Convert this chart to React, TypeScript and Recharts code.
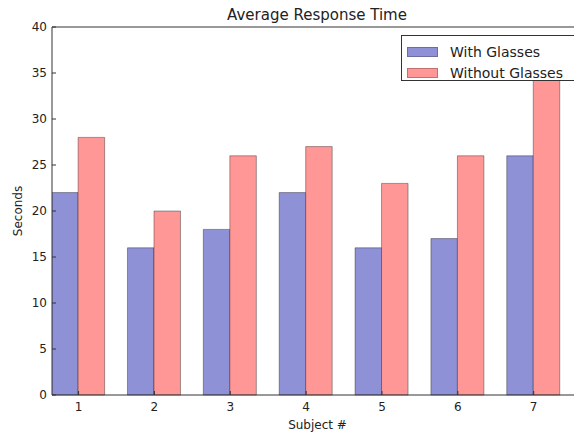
import React from "react";
import { Bar, BarChart, Legend, XAxis, YAxis } from "recharts";

const subjects = [1, 2, 3, 4, 5, 6, 7];
const withGlasses = [22, 16, 18, 22, 16, 17, 26];
const withoutGlasses = [28, 20, 26, 27, 23, 26, 35];
const yTicks = [0, 5, 10, 15, 20, 25, 30, 35, 40];

// matplotlib-style layout: bar i starts at i, width 0.35, tick at i + 0.35
const BAR_W = 0.35;
const data = subjects.map((s, i) => ({
  x: i + BAR_W,
  subject: s,
  withGlasses: withGlasses[i],
  withoutGlasses: withoutGlasses[i],
}));
const xTicks = data.map((d) => d.x);

const FONT = "DejaVu Sans, sans-serif";
const BLUE = "#8f91d6";
const RED = "#ff9797";
const AXIS = "#333";

const series = [
  { key: "withGlasses", name: "With Glasses", color: BLUE },
  { key: "withoutGlasses", name: "Without Glasses", color: RED },
];

function LegendBox() {
  return (
    <div
      style={{
        width: 200,
        height: 46,
        border: "1px solid #333",
        background: "#fff",
        fontFamily: FONT,
        fontSize: 14,
        color: "#222",
        boxSizing: "border-box",
        paddingTop: 5,
      }}
    >
      {series.map((s) => (
        <div
          key={s.key}
          style={{ display: "flex", alignItems: "center", height: 21.5 }}
        >
          <span
            style={{
              display: "inline-block",
              width: 31,
              height: 10,
              marginLeft: 5,
              marginRight: 12,
              background: s.color,
              border: "1px solid rgba(0,0,0,0.25)",
              boxSizing: "border-box",
            }}
          />
          <span>{s.name}</span>
        </div>
      ))}
    </div>
  );
}

export default function App() {
  return (
    <div
      style={{
        position: "absolute",
        left: 0,
        top: 0,
        width: 574,
        height: 433,
        overflow: "hidden",
        background: "#fff",
      }}
    >
      <div
        style={{
          position: "absolute",
          left: 0,
          width: 634,
          top: 6,
          textAlign: "center",
          fontFamily: FONT,
          fontSize: 15,
          color: "#222",
        }}
      >
        Average Response Time
      </div>
      <BarChart
        width={600}
        height={433}
        data={data}
        margin={{ top: 0, right: 17, bottom: 0, left: 0 }}
        barGap={0}
        barSize={26.5}
        style={{ fontFamily: FONT }}
      >
        <XAxis
          xAxisId="bottom"
          type="number"
          dataKey="x"
          domain={[0, 7]}
          ticks={xTicks}
          allowDataOverflow
          tickFormatter={(v: number) => String(subjects[Math.round(v - BAR_W)])}
          height={38}
          stroke={AXIS}
          tickSize={-4}
          tickMargin={11}
          tick={{ fill: "#222", fontSize: 12 }}
          label={{
            value: "Subject #",
            position: "insideBottom",
            offset: 4,
            fill: "#222",
            fontSize: 12,
          }}
        />
        <XAxis
          xAxisId="top"
          orientation="top"
          type="number"
          dataKey="x"
          domain={[0, 7]}
          ticks={xTicks}
          allowDataOverflow
          height={27}
          stroke={AXIS}
          tickSize={-4}
          tick={false}
        />
        <YAxis
          yAxisId="left"
          domain={[0, 40]}
          ticks={yTicks}
          width={52}
          stroke={AXIS}
          tickSize={-4}
          tickMargin={9}
          tick={{ fill: "#222", fontSize: 12 }}
          label={{
            value: "Seconds",
            angle: -90,
            position: "center",
            dx: -8,
            fill: "#222",
            fontSize: 12,
          }}
        />
        <Legend
          layout="vertical"
          align="center"
          verticalAlign="middle"
          wrapperStyle={{ left: 401, top: 35, width: 200 }}
          content={() => <LegendBox />}
        />
        {series.map((s) => (
          <Bar
            key={s.key}
            xAxisId="bottom"
            yAxisId="left"
            dataKey={s.key}
            name={s.name}
            fill={s.color}
            stroke="rgba(0,0,0,0.35)"
            strokeWidth={1}
            isAnimationActive={false}
          />
        ))}
      </BarChart>
    </div>
  );
}
